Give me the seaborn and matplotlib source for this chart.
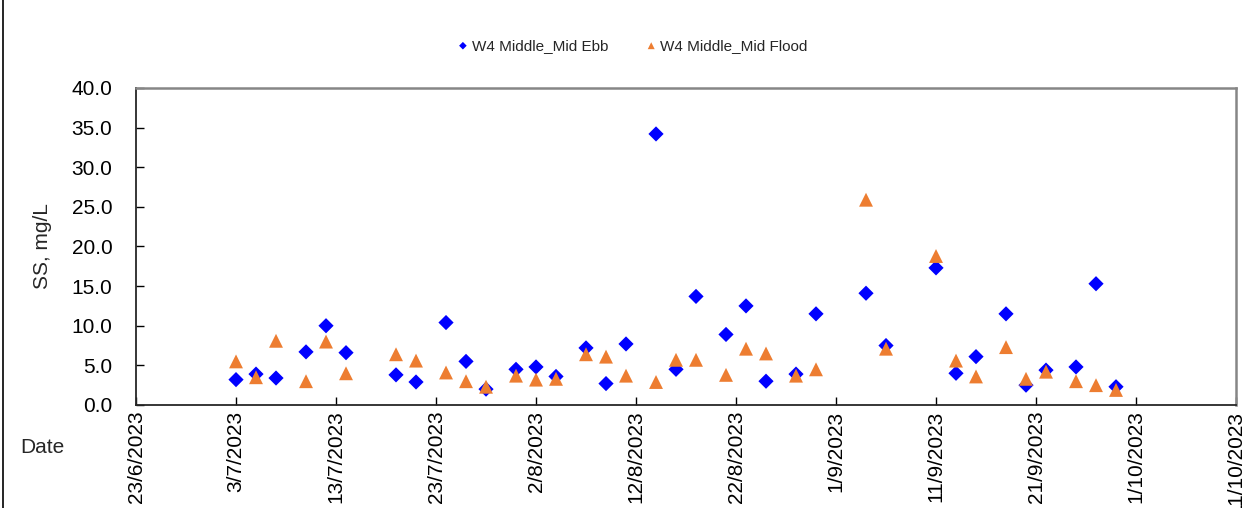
import pandas as pd
import seaborn as sns
import matplotlib.pyplot as plt
import matplotlib.dates as mdates
from matplotlib.lines import Line2D

# sampling dates (same for both tides)
dates = ['2023-07-03', '2023-07-05', '2023-07-07', '2023-07-10', '2023-07-12', '2023-07-14',
         '2023-07-19', '2023-07-21', '2023-07-24', '2023-07-26', '2023-07-28', '2023-07-31',
         '2023-08-02', '2023-08-04', '2023-08-07', '2023-08-09', '2023-08-11', '2023-08-14',
         '2023-08-16', '2023-08-18', '2023-08-21', '2023-08-23', '2023-08-25', '2023-08-28',
         '2023-08-30', '2023-09-04', '2023-09-06', '2023-09-11', '2023-09-13', '2023-09-15',
         '2023-09-18', '2023-09-20', '2023-09-22', '2023-09-25', '2023-09-27', '2023-09-29']

# SS, mg/L
mid_ebb = [3.2, 3.9, 3.4, 6.7, 10.0, 6.6, 3.8, 2.9, 10.4, 5.5, 2.0, 4.5,
           4.8, 3.6, 7.2, 2.7, 7.7, 34.2, 4.5, 13.7, 8.9, 12.5, 3.0, 3.9,
           11.5, 14.1, 7.5, 17.3, 4.0, 6.1, 11.5, 2.5, 4.4, 4.8, 15.3, 2.3]
mid_flood = [5.5, 3.5, 8.1, 3.0, 8.0, 4.0, 6.4, 5.6, 4.1, 3.0, 2.3, 3.7,
             3.2, 3.3, 6.4, 6.1, 3.7, 2.9, 5.7, 5.7, 3.8, 7.1, 6.5, 3.7,
             4.5, 25.9, 7.1, 18.8, 5.6, 3.6, 7.3, 3.3, 4.2, 3.0, 2.5, 1.9]

series_names = ['W4 Middle_Mid Ebb', 'W4 Middle_Mid Flood']

df = pd.DataFrame({'Date': pd.to_datetime(dates), 'ebb': mid_ebb, 'flood': mid_flood})

sns.set_style('white')
plt.rcParams['font.family'] = ['Liberation Sans', 'DejaVu Sans']

fig = plt.figure(figsize=(12.49, 5.08), dpi=100)
ax = fig.add_axes([0.1089, 0.2028, 0.8807, 0.624])

sns.scatterplot(data=df, x='Date', y='ebb', marker='D', s=60, color='#0000FF',
                edgecolor='none', ax=ax, label=series_names[0], zorder=3)
sns.scatterplot(data=df, x='Date', y='flood', marker='^', s=100, color='#ED7D31',
                edgecolor='none', ax=ax, label=series_names[1], zorder=3)

# axes
ax.set_ylim(0, 40)
ax.set_yticks(range(0, 41, 5))
ax.yaxis.set_major_formatter(plt.FuncFormatter(lambda v, p: f'{v:.1f}'))
ax.set_xlim(pd.Timestamp('2023-06-23'), pd.Timestamp('2023-10-11'))
ax.set_xticks(pd.date_range('2023-06-23', '2023-10-11', freq='10D'))
ax.xaxis.set_major_formatter(plt.FuncFormatter(
    lambda v, p: (lambda d: f'{d.day}/{d.month}/{d.year}')(mdates.num2date(v))))
ax.tick_params(axis='x', direction='in', length=6, width=1, rotation=90, labelsize=15, pad=4, colors='black')
ax.tick_params(axis='y', direction='in', length=6, width=1, labelsize=15, pad=17, colors='black')
ax.tick_params(left=True, bottom=True)

ax.set_xlabel('')
ax.set_ylabel('SS, mg/L', fontsize=15, labelpad=14)

for side in ['left', 'bottom']:
    ax.spines[side].set_color('#262626')
    ax.spines[side].set_linewidth(1.3)
for side in ['top', 'right']:
    ax.spines[side].set_color('#868686')
    ax.spines[side].set_linewidth(1.8)
ax.grid(False)

fig.text(0.016, 0.12, 'Date', fontsize=15, va='center', ha='left')

# legend on top
ax.get_legend().remove()
handles, labels = ax.get_legend_handles_labels()
fig.legend(handles, labels, loc='center', bbox_to_anchor=(0.505, 0.91), ncol=2,
           frameon=False, fontsize=11, markerscale=0.5, handletextpad=0.0,
           columnspacing=2.2, handlelength=1.2)

# chart area border on the left
fig.add_artist(Line2D([0.0028, 0.0028], [0, 1], transform=fig.transFigure, color='black', lw=1.2))

fig.savefig('out.png', dpi=100)
